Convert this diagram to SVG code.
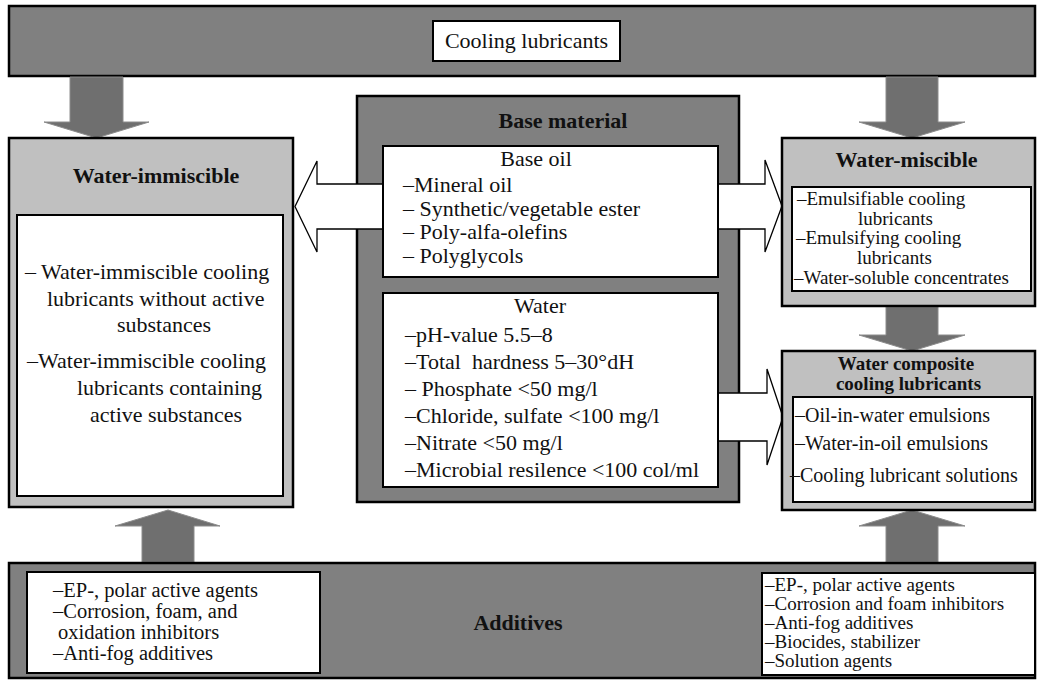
<svg xmlns="http://www.w3.org/2000/svg" width="1039" height="681" viewBox="0 0 1039 681">
  <style>
    .bar { fill: #808080; stroke: #000; stroke-width: 2.5; }
    .panel { fill: #c0c0c0; stroke: #000; stroke-width: 2.5; }
    .card { fill: #fff; stroke: #000; stroke-width: 2; }
    .block { fill: #6f6f6f; stroke: #8c8c8c; stroke-width: 1; }
    .hollow { fill: #fff; stroke: #000; stroke-width: 1.3; }
    text { font-family: "Liberation Serif", "Times New Roman", serif; fill: #111; }
    .title { font-weight: bold; font-size: 22px; }
    .t22 { font-size: 22px; }
    .t21 { font-size: 20.5px; }
    .t20 { font-size: 20px; }
    .t19 { font-size: 19px; }
    .mid { text-anchor: middle; }
  </style>

  <!-- top bar -->
  <g id="cooling-lubricants">
    <rect class="bar" x="9" y="6" width="1026" height="70"/>
    <rect class="card" x="433" y="21" width="187" height="40"/>
    <text class="t22 mid" x="526.5" y="48">Cooling lubricants</text>
  </g>

  <!-- base material frame (inner cards drawn after the connectors) -->
  <g id="base-material">
    <rect class="bar" x="357" y="96" width="382" height="406"/>
    <text class="title mid" x="563" y="128">Base material</text>
  </g>

  <g id="connectors">
    <!-- block arrows -->
    <polygon class="block" points="70,77 123,77 123,122 149,122 96.5,138 44,122 70,122"/>
    <polygon class="block" points="886,77 938,77 938,122 965,122 912,138 859,122 886,122"/>
    <polygon class="block" points="886,307 938,307 938,335 965,335 912,351 859,335 886,335"/>
    <polygon class="block" points="142,562 194,562 194,526 220,526 168,510 115,526 142,526"/>
    <polygon class="block" points="886,562 938,562 938,526 965,526 912,510 859,526 886,526"/>
    <!-- hollow arrows out of the base material -->
    <polygon class="hollow" points="384,184 317,184 317,161 295,206.5 317,252 317,229 384,229"/>
    <polygon class="hollow" points="716,184 765,184 765,160 782,206 765,252 765,229 716,229"/>
    <polygon class="hollow" points="716,393 767,393 767,369 783,417 767,465 767,441 716,441"/>
  </g>

  <g id="base-oil">
    <rect class="card" x="383" y="146" width="335" height="131"/>
    <text class="t22 mid" x="536" y="166">Base oil</text>
    <text class="t22" x="403" y="192">–Mineral oil</text>
    <text class="t22" x="403" y="216">– Synthetic/vegetable ester</text>
    <text class="t22" x="403" y="239">– Poly-alfa-olefins</text>
    <text class="t22" x="403" y="263">– Polyglycols</text>
  </g>

  <g id="water">
    <rect class="card" x="383" y="293" width="335" height="194"/>
    <text class="t22 mid" x="540" y="313">Water</text>
    <text class="t22" x="405" y="342">–pH-value 5.5–8</text>
    <text class="t22" x="405" y="369" xml:space="preserve">–Total  hardness 5–30°dH</text>
    <text class="t22" x="405" y="396">– Phosphate &lt;50 mg/l</text>
    <text class="t22" x="405" y="423">–Chloride, sulfate &lt;100 mg/l</text>
    <text class="t22" x="405" y="450">–Nitrate &lt;50 mg/l</text>
    <text class="t22" x="405" y="477">–Microbial resilence &lt;100 col/ml</text>
  </g>

  <g id="water-immiscible">
    <rect class="panel" x="9" y="138" width="284" height="369"/>
    <text class="title mid" x="156" y="183">Water-immiscible</text>
    <rect class="card" x="17" y="215" width="266" height="281"/>
    <text class="t22" x="25" y="279">– Water-immiscible cooling</text>
    <text class="t22" x="47" y="306">lubricants without active</text>
    <text class="t22" x="117" y="332">substances</text>
    <text class="t22" x="27" y="368">–Water-immiscible cooling</text>
    <text class="t22" x="77" y="395">lubricants containing</text>
    <text class="t22" x="90" y="422">active substances</text>
  </g>

  <g id="water-miscible">
    <rect class="panel" x="782" y="138" width="253" height="168"/>
    <text class="title mid" x="906.5" y="167">Water-miscible</text>
    <rect class="card" x="792" y="187" width="239" height="104"/>
    <text class="t19" x="797" y="205">–Emulsifiable cooling</text>
    <text class="t19" x="858" y="225">lubricants</text>
    <text class="t19" x="796" y="244">–Emulsifying cooling</text>
    <text class="t19" x="857" y="264">lubricants</text>
    <text class="t19" x="794" y="284">–Water-soluble concentrates</text>
  </g>

  <g id="water-composite">
    <rect class="panel" x="782" y="351" width="253" height="159"/>
    <text class="title mid" x="906" y="370" style="font-size:19px">Water composite</text>
    <text class="title mid" x="908.5" y="390" style="font-size:19px">cooling lubricants</text>
    <rect class="card" x="793" y="397" width="239" height="105"/>
    <text class="t20" x="795" y="422">–Oil-in-water emulsions</text>
    <text class="t20" x="795" y="450">–Water-in-oil emulsions</text>
    <text class="t20" x="790" y="482">–Cooling lubricant solutions</text>
  </g>

  <g id="additives">
    <rect class="bar" x="9" y="563" width="1026" height="115"/>
    <text class="title mid" x="518" y="630">Additives</text>
    <rect class="card" x="27" y="572" width="293" height="101"/>
    <text class="t21" x="53" y="597">–EP-, polar active agents</text>
    <text class="t21" x="53" y="618">–Corrosion, foam, and</text>
    <text class="t21" x="58" y="639">oxidation inhibitors</text>
    <text class="t21" x="53" y="660">–Anti-fog additives</text>
    <rect class="card" x="762" y="573" width="273" height="102"/>
    <text class="t19" x="765" y="591">–EP-, polar active agents</text>
    <text class="t19" x="765" y="610">–Corrosion and foam inhibitors</text>
    <text class="t19" x="765" y="629">–Anti-fog additives</text>
    <text class="t19" x="765" y="648">–Biocides, stabilizer</text>
    <text class="t19" x="765" y="667">–Solution agents</text>
  </g>
</svg>
